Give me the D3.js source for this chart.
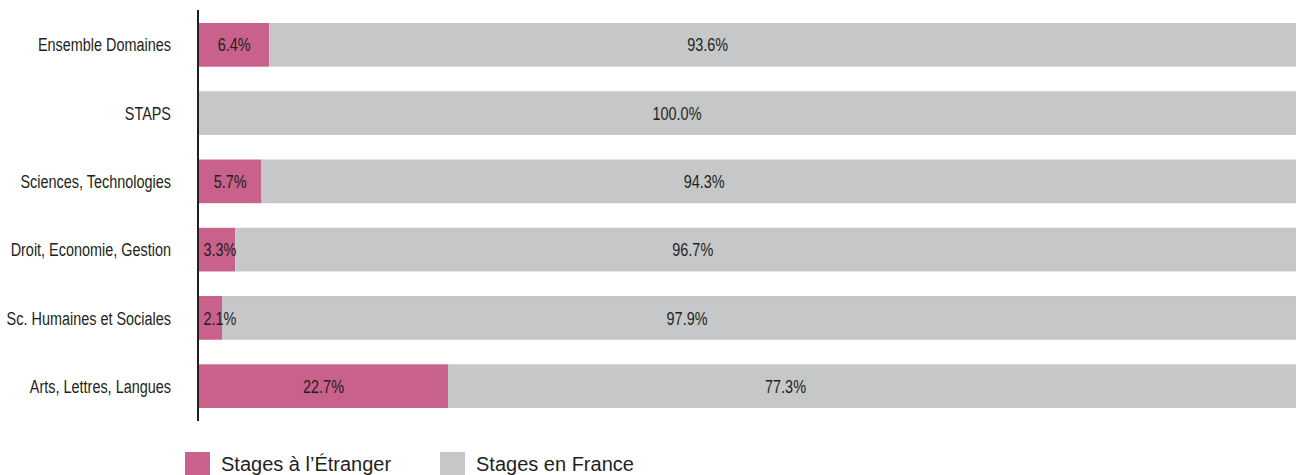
<!DOCTYPE html>
<html>
<head>
<meta charset="utf-8">
<script src="https://d3js.org/d3.v7.min.js"></script>
<style>
  body { margin: 0; background: #fff; }
  svg { display: block; }
</style>
</head>
<body>
<svg width="1296" height="475"></svg>
<script>
// data
var categories = ["Ensemble Domaines", "STAPS", "Sciences, Technologies",
  "Droit, Economie, Gestion", "Sc. Humaines et Sociales", "Arts, Lettres, Langues"];
var etranger = [6.4, 0.0, 5.7, 3.3, 2.1, 22.7];
var france = [93.6, 100.0, 94.3, 96.7, 97.9, 77.3];
var seriesNames = ["Stages à l\u2019Étranger", "Stages en France"];
var colors = ["#c8618b", "#c6c7c9"];

var width = 1296, height = 475;
var svg = d3.select("svg");
var font = "'Liberation Sans', Arial, sans-serif";
var squeeze = 0.76; // fake a condensed face

//scales
var x = d3.scaleLinear().domain([0, 100]).range([199, 1296]);
// gray labels sit a bit left of the true middle, like in the source
var xLabel = d3.scaleLinear().domain([0, 100]).range([199, 1155]);
var y = d3.scaleBand().domain(categories).range([23, 408]).paddingInner(0.36).paddingOuter(0);

var rows = categories.map(function(c, i) {
  return {cat: c, a: etranger[i], b: france[i]};
});

var g = svg.append("g");
// pink segments
g.selectAll("rect.a").data(rows).enter().append("rect")
  .attr("class", "a")
  .attr("x", x(0))
  .attr("y", function(d) { return y(d.cat); })
  .attr("width", function(d) { return x(d.a) - x(0); })
  .attr("height", y.bandwidth())
  .attr("fill", colors[0]);
// gray segments
g.selectAll("rect.b").data(rows).enter().append("rect")
  .attr("class", "b")
  .attr("x", function(d) { return x(d.a); })
  .attr("y", function(d) { return y(d.cat); })
  .attr("width", function(d) { return x(d.a + d.b) - x(d.a); })
  .attr("height", y.bandwidth())
  .attr("fill", colors[1]);

// helper: condensed text at a point
function label(sel, fx, fy, anchor, txt) {
  sel.append("text")
    .attr("transform", function(d) {
      return "translate(" + fx(d) + "," + fy(d) + ") scale(" + squeeze + ",1)";
    })
    .attr("dy", "0.35em")
    .attr("text-anchor", anchor)
    .attr("font-family", font)
    .attr("font-size", 19)
    .attr("fill", "#231f20")
    .text(txt);
}
function midY(d) { return y(d.cat) + y.bandwidth() / 2; }

// value labels
var la = g.selectAll("g.la").data(rows.filter(function(d) { return d.a > 0; })).enter().append("g").attr("class", "la");
label(la, function(d) { return Math.max((x(0) + x(d.a)) / 2, x(0) + 21); }, midY, "middle",
  function(d) { return d.a.toFixed(1) + "%"; });
var lb = g.selectAll("g.lb").data(rows).enter().append("g").attr("class", "lb");
label(lb, function(d) { return (xLabel(d.a) + xLabel(100)) / 2; }, midY, "middle",
  function(d) { return d.b.toFixed(1) + "%"; });

// category labels
var lc = g.selectAll("g.cat").data(rows).enter().append("g").attr("class", "cat");
label(lc, function() { return 171; }, midY, "end", function(d) { return d.cat; });

// axis line
svg.append("line")
  .attr("x1", 198).attr("x2", 198)
  .attr("y1", 10).attr("y2", 421)
  .attr("stroke", "#231f20")
  .attr("stroke-width", 2);

// legend
var legendX = [185, 440];
var legend = svg.append("g").selectAll("g")
  .data(seriesNames).enter().append("g")
  .attr("transform", function(d, i) { return "translate(" + legendX[i] + ",452)"; });
legend.append("rect")
  .attr("width", 25).attr("height", 25)
  .attr("fill", function(d, i) { return colors[i]; });
legend.append("text")
  .attr("x", 36).attr("y", 19)
  .attr("font-family", font)
  .attr("font-size", 20)
  .attr("fill", "#231f20")
  .text(function(d) { return d; });
</script>
</body>
</html>
